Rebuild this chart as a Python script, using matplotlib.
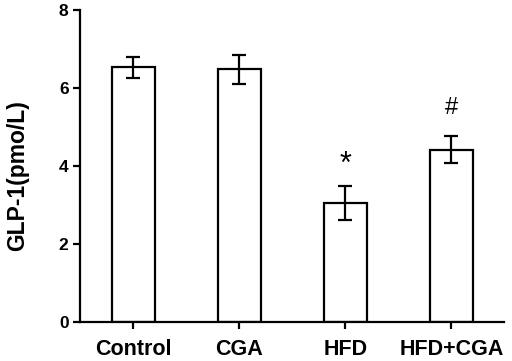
import matplotlib
matplotlib.use('Agg')
import matplotlib.pyplot as plt

# data
groups = ['Control', 'CGA', 'HFD', 'HFD+CGA']
means = [6.53, 6.48, 3.05, 4.42]
errs = [0.28, 0.38, 0.43, 0.35]
marks = ['', '', '*', '#']
mark_sizes = [0, 0, 22, 17]

plt.rcParams['font.family'] = 'Liberation Sans'
plt.rcParams['font.weight'] = 'bold'

fig, ax = plt.subplots(figsize=(5.12, 3.61), dpi=100)
fig.subplots_adjust(left=0.157, right=0.985, top=0.972, bottom=0.108)

x = range(len(groups))
ax.bar(x, means, width=0.4, color='white', edgecolor='black', linewidth=1.6,
       yerr=errs, error_kw=dict(ecolor='black', elinewidth=1.6, capsize=5, capthick=1.6))

# significance marks above the error bars
for i, (m, e, s, fs) in enumerate(zip(means, errs, marks, mark_sizes)):
    if s == '*':
        ax.text(i, m + e + 0.55, s, ha='center', va='center', fontsize=fs, fontweight='normal')
    elif s:
        ax.text(i, m + e + 0.72, s, ha='center', va='center', fontsize=fs, fontweight='normal')

ax.set_xlim(-0.5, 3.5)
ax.set_ylim(0, 8)
ax.set_yticks([0, 2, 4, 6, 8])
ax.set_xticks(list(x))
ax.set_xticklabels(groups, fontsize=15.5, fontweight='bold')
ax.tick_params(axis='y', labelsize=12.5, width=1.6, length=5)
ax.tick_params(axis='x', width=1.6, length=5, pad=7)
for lab in ax.get_yticklabels():
    lab.set_fontweight('bold')
ax.set_ylabel('GLP-1(pmo/L)', fontsize=16.5, fontweight='bold')
ax.yaxis.set_label_coords(-0.122, 0.47)

ax.spines['top'].set_visible(False)
ax.spines['right'].set_visible(False)
ax.spines['left'].set_linewidth(1.6)
ax.spines['bottom'].set_linewidth(1.6)

fig.savefig('out.png', dpi=100)
